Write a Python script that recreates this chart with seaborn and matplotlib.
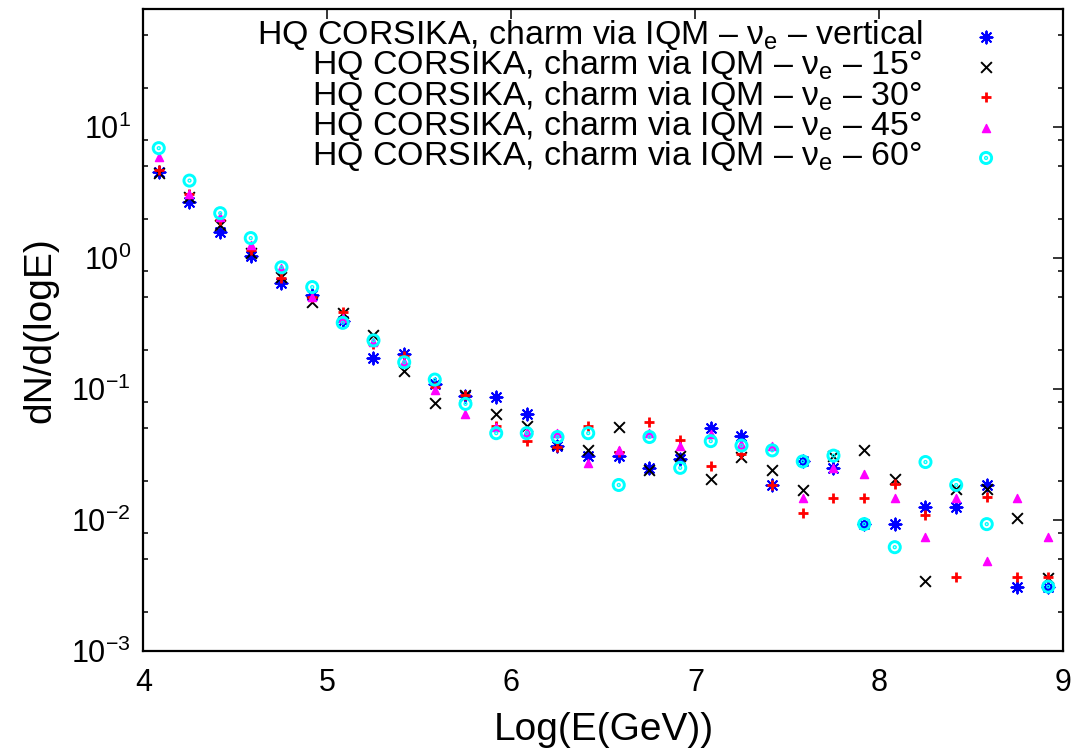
import numpy as np
import pandas as pd
import matplotlib
matplotlib.use("Agg")
import matplotlib.pyplot as plt
import seaborn as sns
from matplotlib.path import Path
from matplotlib.ticker import FixedLocator, LogFormatterSciNotation, NullFormatter, NullLocator

# ---- data ----
log_e = [4.083, 4.25, 4.417, 4.583, 4.75, 4.917, 5.083, 5.25, 5.417, 5.583,
         5.75, 5.917, 6.083, 6.25, 6.417, 6.583, 6.75, 6.917, 7.083, 7.25,
         7.417, 7.583, 7.75, 7.917, 8.083, 8.25, 8.417, 8.583, 8.75, 8.917]

vertical = [4.5, 2.7, 1.58, 1.03, 0.64, 0.52, 0.33, 0.172, 0.185, 0.11,
            0.088, 0.087, 0.065, 0.037, 0.031, 0.031, 0.025, 0.029, 0.050, 0.044,
            0.0185, 0.028, 0.025, 0.0093, 0.0094, 0.0125, 0.0125, 0.0185, 0.0031, 0.0031]
deg15 = [4.45, 2.9, 1.8, 1.1, 0.72, 0.46, 0.38, 0.26, 0.137, 0.078,
         0.09, 0.065, 0.052, 0.038, 0.034, 0.051, 0.024, 0.031, 0.0205, 0.030,
         0.024, 0.017, 0.031, 0.034, 0.0205, 0.0034, 0.0172, 0.0172, 0.0104, 0.0036]
deg30 = [4.7, 3.1, 1.95, 1.15, 0.70, 0.50, 0.39, 0.22, 0.178, 0.104,
         0.09, 0.052, 0.040, 0.036, 0.052, 0.033, 0.056, 0.041, 0.026, 0.032,
         0.0185, 0.0113, 0.0147, 0.0147, 0.0188, 0.011, 0.0037, 0.0149, 0.0037, 0.0037]
deg45 = [5.9, 3.1, 2.05, 1.25, 0.84, 0.50, 0.35, 0.23, 0.16, 0.098,
         0.064, 0.051, 0.047, 0.046, 0.027, 0.034, 0.046, 0.037, 0.045, 0.038,
         0.037, 0.0147, 0.025, 0.0224, 0.0147, 0.0074, 0.0147, 0.0049, 0.0147, 0.0074]
deg60 = [6.9, 3.9, 2.2, 1.42, 0.85, 0.60, 0.32, 0.235, 0.16, 0.118,
         0.077, 0.046, 0.046, 0.043, 0.046, 0.0185, 0.043, 0.025, 0.040, 0.037,
         0.034, 0.028, 0.031, 0.0093, 0.0062, 0.0277, 0.0185, 0.0093, np.nan, 0.0031]

angles = ["vertical", "15°", "30°", "45°", "60°"]
label_base = "HQ CORSIKA, charm via IQM – ν${}_\\mathregular{e}$ – "

x_ticks = [4, 5, 6, 7, 8, 9]
y_major = [1e-3, 1e-2, 1e-1, 1e0, 1e1]
y_minor_mult = [2, 5, 8]

# ---- style ----
sns.set_style("white")
plt.rcParams["font.family"] = ["Liberation Sans", "DejaVu Sans"]
plt.rcParams["mathtext.fontset"] = "custom"
plt.rcParams["mathtext.rm"] = "Liberation Sans"
plt.rcParams["mathtext.it"] = "Liberation Sans:italic"
plt.rcParams["mathtext.bf"] = "Liberation Sans:bold"
for key in ["text.color", "axes.labelcolor", "xtick.color", "ytick.color",
            "axes.edgecolor", "xtick.labelcolor", "ytick.labelcolor"]:
    plt.rcParams[key] = "black"

fig = plt.figure(figsize=(10.74, 7.53), dpi=100)
ax = fig.add_axes([0.1336, 0.1355, 0.8566, 0.8529])

circ_dot = Path.make_compound_path(Path.unit_circle(), Path.circle((0, 0), 0.12))

series = [
    (vertical, (8, 2, 0), "#0000ff", 75, 1.4, {}),
    (deg15, "x", "#000000", 60, 1.4, {}),
    (deg30, "+", "#ff0000", 62, 2.0, {}),
    (deg45, "^", "#ff00ff", 34, 1.0, {"edgecolor": "#ff00ff"}),
    (deg60, circ_dot, "#00ffff", 64, 2.1, {"facecolor": "none", "edgecolor": "#00ffff"}),
]

for (vals, marker, color, size, lw, extra), ang in zip(series, angles):
    df = pd.DataFrame({"x": log_e, "y": vals})
    sns.scatterplot(data=df, x="x", y="y", marker=marker, color=color, s=size,
                    linewidth=lw, ax=ax, label=label_base + ang, legend=False,
                    zorder=3, **extra)

ax.set_yscale("log")
ax.set_xlim(4, 9)
ax.set_ylim(1e-3, 80)

ax.xaxis.set_major_locator(FixedLocator(x_ticks))
ax.xaxis.set_minor_locator(NullLocator())
ax.yaxis.set_major_locator(FixedLocator(y_major))
minors = [m * d for d in [1e-3, 1e-2, 1e-1, 1e0, 1e1] for m in y_minor_mult]
ax.yaxis.set_minor_locator(FixedLocator(minors))
ax.yaxis.set_major_formatter(LogFormatterSciNotation())
ax.yaxis.set_minor_formatter(NullFormatter())

ax.tick_params(which="major", direction="in", length=7.5, width=1.1,
               top=True, right=True, labelsize=22, color="black", labelcolor="black")
ax.tick_params(axis="y", which="major", pad=9)
ax.tick_params(axis="x", which="major", pad=12)
ax.tick_params(which="minor", direction="in", length=3.8, width=1.1,
               left=True, right=True, color="black")
for sp in ax.spines.values():
    sp.set_linewidth(1.6)
    sp.set_color("black")

ax.set_xlabel("Log(E(GeV))", fontsize=28, labelpad=10, color="black")
ax.set_ylabel("dN/d(logE)", fontsize=28, labelpad=9, color="black")

handles, labels = ax.get_legend_handles_labels()
leg = ax.legend(handles, labels, loc="upper right",
                bbox_to_anchor=(1003 / 1074, 1 - 18 / 753),
                bbox_transform=fig.transFigure, frameon=False, markerfirst=False,
                fontsize=24.4, handlelength=1.0, handletextpad=1.39,
                labelspacing=-0.11, borderpad=0, borderaxespad=0,
                scatterpoints=1, scatteryoffsets=[0.3])
for t in leg.get_texts():
    t.set_color("black")

fig.savefig("out.png", dpi=100)
